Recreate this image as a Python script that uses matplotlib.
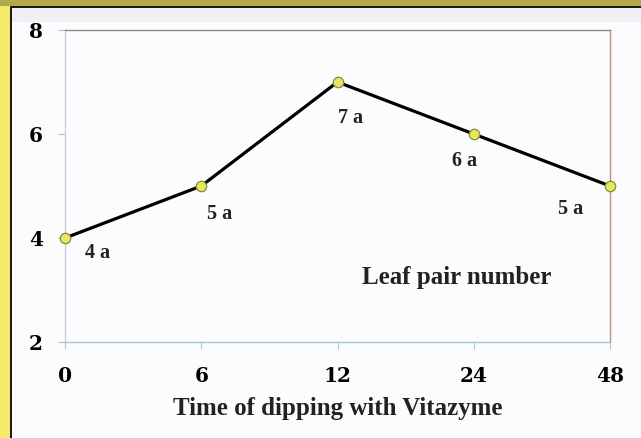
import matplotlib.pyplot as plt
from matplotlib.patches import Rectangle

times = ['0', '6', '12', '24', '48']
leaf_pairs = [4, 5, 7, 6, 5]
point_labels = ['4 a', '5 a', '7 a', '6 a', '5 a']
y_ticks = [2, 4, 6, 8]

# label offsets in pixels (dx, dy) from each point
offsets = [(33, -15), (18, -28), (13, -36), (-9, -27), (-39, -23)]

fig = plt.figure(figsize=(6.41, 4.38), dpi=100)
fig.patch.set_facecolor('#fcfcfe')

# yellow frame on left and top
fig.patches.append(Rectangle((0, 0), 10 / 641, 1, transform=fig.transFigure,
                             facecolor='#f4e96a', edgecolor='none', zorder=0))
fig.patches.append(Rectangle((0, 1 - 6 / 438), 1, 6 / 438, transform=fig.transFigure,
                             facecolor='#b3a94a', edgecolor='none', zorder=0))
fig.patches.append(Rectangle((10 / 641, 0), 2 / 641, 1 - 6 / 438, transform=fig.transFigure,
                             facecolor='#1a1a10', edgecolor='none', zorder=1))
fig.patches.append(Rectangle((10 / 641, 1 - 8 / 438), 1, 2 / 438, transform=fig.transFigure,
                             facecolor='#1a1a10', edgecolor='none', zorder=1))
fig.patches.append(Rectangle((12 / 641, 1 - 22 / 438), 1, 14 / 438, transform=fig.transFigure,
                             facecolor='#f0f0f4', edgecolor='none', zorder=0))

ax = fig.add_axes([65 / 641, 1 - 342 / 438, 545 / 641, 312 / 438])
ax.set_facecolor('#fcfcfe')

x = list(range(len(times)))
ax.plot(x, leaf_pairs, color='black', linewidth=2.3, marker='o', markersize=7.5,
        markerfacecolor='#e6e664', markeredgecolor='#8a8a3a', markeredgewidth=0.9,
        clip_on=False, zorder=3)

for xi, yi, lab, (dx, dy) in zip(x, leaf_pairs, point_labels, offsets):
    ax.annotate(lab, (xi, yi), xytext=(dx * 0.72, dy * 0.72), textcoords='offset points',
                ha='center', va='center', fontsize=14.5, fontweight='bold',
                family='Liberation Serif', color='#222222')

ax.text(0.718, 0.208, 'Leaf pair number', transform=ax.transAxes, ha='center', va='center',
        fontsize=18, fontweight='bold', family='Liberation Serif', color='#222222')

ax.set_xlim(0, 4)
ax.set_ylim(2, 8)
ax.set_xticks(x)
ax.set_xticklabels(times)
ax.set_yticks(y_ticks)
for lab in ax.get_xticklabels() + ax.get_yticklabels():
    lab.set_fontfamily('DejaVu Serif')
    lab.set_fontweight('heavy')
    lab.set_fontsize(14.5)
ax.tick_params(axis='x', length=5, color='#a8c4d4', pad=12)
ax.tick_params(axis='y', length=5, color='#a8c4d4', pad=11)

ax.spines['left'].set_color('#c4d2dc')
ax.spines['bottom'].set_color('#a8c4d4')
ax.spines['top'].set_color('#888888')
ax.spines['right'].set_color('#c09088')
for s in ax.spines.values():
    s.set_linewidth(1.0)

ax.set_xlabel('Time of dipping with Vitazyme', fontsize=18, fontweight='bold',
              family='Liberation Serif', color='#222222')
ax.xaxis.set_label_coords(0.5, -66 / 312)
ax.xaxis.label.set_va('center')

fig.savefig('out.png', dpi=100)
